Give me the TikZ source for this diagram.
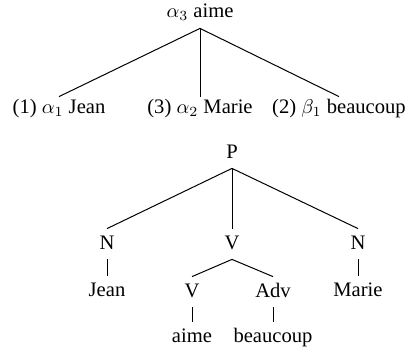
\documentclass[tikz,border=0pt]{standalone}
\usepackage{fontspec}
\setmainfont{Liberation Serif}
\begin{document}
\begin{tikzpicture}[x=0.5pt,y=-0.5pt,
  lab/.style={inner xsep=0pt,inner ysep=3pt,text height=7pt,text depth=2pt,anchor=base,font=\fontsize{10.3}{12}\selectfont},
  toplab/.style={lab,text height=5pt},
  edge/.style={draw=black,line width=0.5pt}]
\useasboundingbox (0,0) rectangle (407,348);
% top derivation tree
\node[lab] (r) at (200,18) {$\alpha_3$ aime};
\node[toplab] (c1) at (59,113) {(1) $\alpha_1$ Jean};
\node[toplab] (c2) at (200,113) {(3) $\alpha_2$ Marie};
\node[toplab] (c3) at (339,113) {(2) $\beta_1$ beaucoup};
\draw[edge] (r.south) -- (c1.north);
\draw[edge] (r.south) -- (c2.north);
\draw[edge] (r.south) -- (c3.north);
% bottom derived tree
\node[lab] (p) at (232,158) {P};
\node[lab] (n1) at (107,249) {N};
\node[lab] (v) at (232,249) {V};
\node[lab] (n2) at (358,249) {N};
\node[lab] (jean) at (107,296) {Jean};
\node[lab] (marie) at (358,296) {Marie};
\node[lab] (v2) at (192,297) {V};
\node[lab] (adv) at (273,297) {Adv};
\node[lab] (aime) at (192,342) {aime};
\node[lab] (beau) at (273,342) {beaucoup};
\draw[edge] (p.south) -- (n1.north);
\draw[edge] (p.south) -- (v.north);
\draw[edge] (p.south) -- (n2.north);
\draw[edge] (n1.south) -- (jean.north);
\draw[edge] (n2.south) -- (marie.north);
\draw[edge] (v.south) -- (v2.north);
\draw[edge] (v.south) -- (adv.north);
\draw[edge] (v2.south) -- (aime.north);
\draw[edge] (adv.south) -- (beau.north);
\end{tikzpicture}
\end{document}
